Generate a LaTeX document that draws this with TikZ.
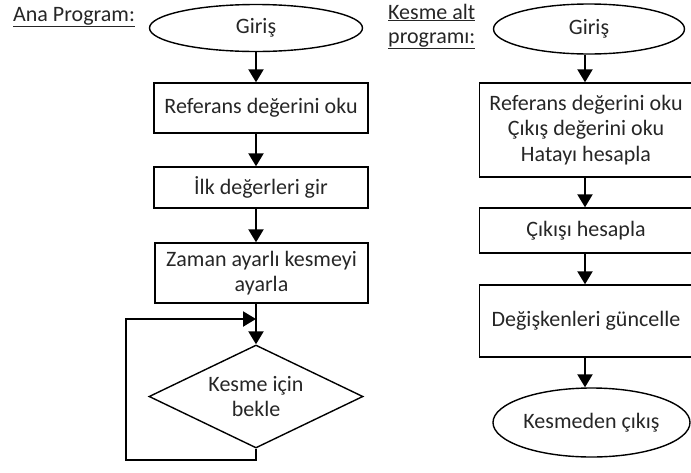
\documentclass[tikz,border=0pt]{standalone}
\usepackage{fontspec}
\setmainfont{Carlito}
\usetikzlibrary{shapes.geometric,arrows.meta}
\begin{document}
\begin{tikzpicture}[x=1pt,y=-1pt,
  every node/.style={font=\fontsize{22}{25.5}\selectfont, text=black!85},
  procbox/.style={draw, line width=1.4pt, rectangle, inner sep=0pt, align=center},
  termell/.style={draw, line width=1.4pt, ellipse, inner sep=0pt, align=center},
  waitdia/.style={draw, line width=1.4pt, diamond, aspect=2.08, inner sep=0pt, align=center},
  arr/.style={line width=2.2pt, -{Triangle[width=15pt,length=13pt]}},
  titl/.style={anchor=base west, inner sep=0pt, align=left}
]
\useasboundingbox (0,0) rectangle (691,472);
\clip (0,0) rectangle (691,472);

% titles
\node[titl] (t1) at (13,21) {\underline{Ana Program:}};
\node[titl] (t2) at (388,19) {\underline{Kesme alt}};
\node[titl] (t3) at (388,43) {\underline{programı:}};

% left column
\node[termell, minimum width=213pt, minimum height=47pt] (g1) at (256,28) {Giriş};
\node[procbox, minimum width=214pt, minimum height=50pt] (r1) at (261,108) {Referans değerini oku};
\node[procbox, minimum width=214pt, minimum height=41pt] (i1) at (261,187.5) {İlk değerleri gir};
\node[procbox, minimum width=213pt, minimum height=60pt] (z1) at (261.5,273) {Zaman ayarlı kesmeyi\\ayarla};
\node[waitdia, minimum width=214pt, minimum height=103pt] (w1) at (256,396.5) {Kesme için\\bekle};
\coordinate (lb) at (126,460);
\coordinate (lt) at (126,319);

\draw[arr] (g1.south) -- (g1.south |- r1.north);
\draw[arr] (g1.south |- r1.south) -- (g1.south |- i1.north);
\draw[arr] (g1.south |- i1.south) -- (g1.south |- z1.north);
\draw[arr] (g1.south |- z1.south) -- (w1.north);
\draw[arr] (w1.south) |- (lb) -- (lt) -- (lt -| w1.north);

% right column
\node[termell, minimum width=191pt, minimum height=50pt] (g2) at (589,29) {Giriş};
\node[procbox, minimum width=213pt, minimum height=94pt] (r2) at (586,130) {Referans değerini oku\\Çıkış değerini oku\\Hatayı hesapla};
\node[procbox, minimum width=213pt, minimum height=45pt] (c2) at (586,230.5) {Çıkışı hesapla};
\node[procbox, minimum width=213pt, minimum height=72pt] (d2) at (586,321) {Değişkenleri güncelle};
\node[termell, minimum width=197pt, minimum height=69pt] (e2) at (591.5,422.5) {Kesmeden çıkış};
\coordinate (ax) at (585,0);

\draw[arr] (ax |- g2.south) -- (ax |- r2.north);
\draw[arr] (ax |- r2.south) -- (ax |- c2.north);
\draw[arr] (ax |- c2.south) -- (ax |- d2.north);
\draw[arr] (ax |- d2.south) -- (ax |- e2.north);
\end{tikzpicture}
\end{document}
